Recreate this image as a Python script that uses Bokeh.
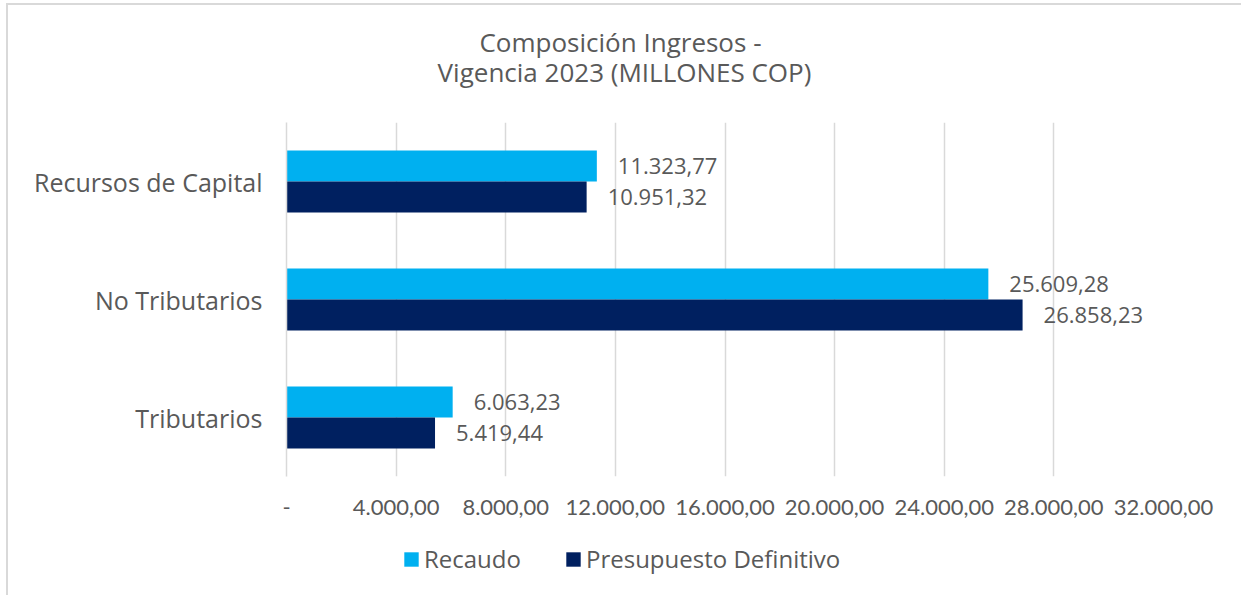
from bokeh.plotting import figure
from bokeh.layouts import column
from bokeh.models import (ColumnDataSource, FactorRange, Range1d, FixedTicker, Legend,
                          LegendItem, Label)
from bokeh.transform import dodge
from bokeh.core.properties import value
from bokeh.embed import file_html
from bokeh.resources import INLINE

# ---- data ----
categories = ["Tributarios", "No Tributarios", "Recursos de Capital"]
recaudo = [6063.23, 25609.28, 11323.77]
presupuesto = [5419.44, 26858.23, 10951.32]
series_names = ["Recaudo", "Presupuesto Definitivo"]
series_colors = ["#00B0F0", "#002060"]
x_ticks = [0, 4000, 8000, 12000, 16000, 20000, 24000, 28000, 32000]
x_tick_labels = ["-", "4.000,00", "8.000,00", "12.000,00", "16.000,00",
                 "20.000,00", "24.000,00", "28.000,00", "32.000,00"]
title_lines = ["Composición Ingresos -", "Vigencia 2023 (MILLONES COP)"]


def fmt(v):
    s = f"{v:,.2f}"
    return s.replace(",", "X").replace(".", ",").replace("X", ".")


src = ColumnDataSource(dict(
    cat=categories,
    rec=recaudo,
    pre=presupuesto,
    rec_lbl=[fmt(v) for v in recaudo],
    pre_lbl=[fmt(v) for v in presupuesto],
))

TXT = "#595959"
FONT = "Open Sans"
W = 1233
BL, BR = 278, 78


def strip(height):
    f = figure(width=W, height=height, output_backend="svg", toolbar_location=None,
               x_axis_location=None, y_axis_location=None,
               x_range=Range1d(0, 32000), y_range=FactorRange(*categories),
               min_border_left=BL, min_border_right=BR,
               min_border_top=0, min_border_bottom=0)
    f.outline_line_color = None
    f.grid.visible = False
    f.border_fill_color = "white"
    return f


# ---- title strip ----
pt = strip(117)
for t, cx, cy in zip(title_lines, [334, 338], [81, 51]):
    pt.add_layout(Label(x=cx, y=cy, x_units="screen", y_units="screen",
                        text=t, text_align="center", text_baseline="middle",
                        text_font=FONT, text_font_size="26px", text_color=TXT))

# ---- main chart ----
p = figure(width=W, height=413,
           y_range=FactorRange(*categories, range_padding=0),
           x_range=Range1d(0, 32000),
           output_backend="svg", toolbar_location=None,
           min_border_left=BL, min_border_right=BR,
           min_border_top=0, min_border_bottom=59)
p.outline_line_color = None
p.background_fill_color = "white"
p.border_fill_color = "white"

off = 0.131
h = 0.262
p.hbar(y=dodge("cat", off, range=p.y_range), right="rec", left=0, height=h,
       fill_color=series_colors[0], line_color=None, source=src)
p.hbar(y=dodge("cat", -off, range=p.y_range), right="pre", left=0, height=h,
       fill_color=series_colors[1], line_color=None, source=src)

p.text(x="rec", y=dodge("cat", off, range=p.y_range), text="rec_lbl", source=src,
       x_offset=21, text_baseline="middle", text_align="left",
       text_font=value(FONT), text_font_size="22px", text_color=TXT)
p.text(x="pre", y=dodge("cat", -off, range=p.y_range), text="pre_lbl", source=src,
       x_offset=21, text_baseline="middle", text_align="left",
       text_font=value(FONT), text_font_size="22px", text_color=TXT)

# grid
p.ygrid.grid_line_color = None
p.xgrid.ticker = FixedTicker(ticks=x_ticks)
p.xgrid.grid_line_color = "#D9D9D9"
p.xgrid.grid_line_width = 1.5

# x axis
p.xaxis.ticker = FixedTicker(ticks=x_ticks)
p.xaxis.major_label_overrides = {t: l for t, l in zip(x_ticks, x_tick_labels)}
p.xaxis.axis_line_color = None
p.xaxis.major_tick_line_color = None
p.xaxis.minor_tick_line_color = None
p.xaxis.major_label_text_font = "Lato"
p.xaxis.major_label_text_font_size = "22px"
p.xaxis.major_label_text_color = TXT
p.xaxis.major_label_standoff = 17

# y axis
p.yaxis.axis_line_color = "#D9D9D9"
p.yaxis.axis_line_width = 1.5
p.yaxis.major_tick_line_color = None
p.yaxis.minor_tick_line_color = None
p.yaxis.major_label_text_font = FONT
p.yaxis.major_label_text_font_size = "25px"
p.yaxis.major_label_text_color = TXT
p.yaxis.major_label_standoff = 18

# ---- legend strip ----
pl = strip(60)
l1 = pl.hbar(y="cat", right="rec", left=0, height=0.5, fill_color=series_colors[0],
             line_color=None, source=src, visible=False)
l2 = pl.hbar(y="cat", right="pre", left=0, height=0.5, fill_color=series_colors[1],
             line_color=None, source=src, visible=False)
legend = Legend(items=[LegendItem(label=series_names[0], renderers=[l1]),
                       LegendItem(label=series_names[1], renderers=[l2])],
                orientation="horizontal", location=(116, 20),
                glyph_width=18, glyph_height=18, label_standoff=4, spacing=43,
                padding=0, margin=0,
                label_text_font=FONT, label_text_font_size="24px", label_text_color=TXT,
                border_line_color=None, background_fill_alpha=0)
pl.add_layout(legend, "center")

layout = column(pt, p, pl, spacing=0)
layout.styles = {"margin-left": "6px", "margin-top": "3px",
                 "border-left": "2px solid #D9D9D9", "border-top": "2px solid #D9D9D9"}

open("out.html", "w").write(file_html(layout, INLINE))
